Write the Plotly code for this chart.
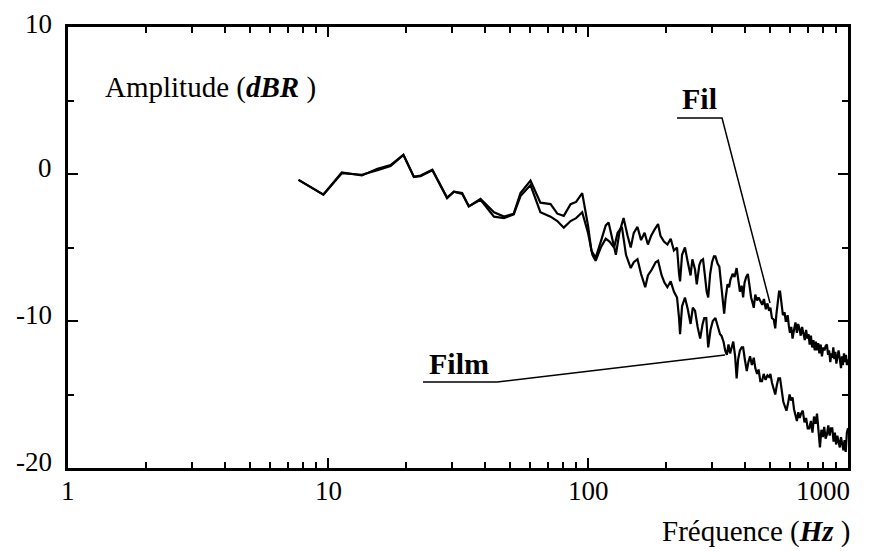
import numpy as np
import plotly.graph_objects as go

# ---------------- data ----------------
fil_freq = [7.7, 9.6, 11.3, 13.5, 15.5, 17.4, 19.5, 21.4, 22.7, 25.2, 28.7, 30.5, 32.8, 34.8,
            38.6, 43.5, 47.5, 51.8, 55, 60.1, 65.6, 71.8, 76.2, 80.7, 85.7, 90, 95,
            100, 103, 107, 112, 117, 120, 124, 128, 132, 137, 142, 146, 150, 155, 160, 165,
            170, 175, 180, 186, 190, 196, 202, 208, 214, 220, 224, 226, 230, 236, 242, 248,
            252, 258, 262, 268, 272, 277, 282, 286, 290, 295, 300, 305, 309, 315, 320, 326,
            330, 334, 338, 344, 349, 353, 360, 366, 373, 378, 384, 390, 395, 400, 406, 412,
            418, 424, 430, 434, 440, 447, 453, 460, 468, 475, 483, 490, 497, 503, 510, 518,
            525, 530, 537, 543, 548, 555, 562, 570, 576, 580, 586, 592, 598, 605, 612, 620,
            628, 636, 643, 650, 658, 666, 674, 682, 690, 698, 705, 712, 720, 728, 736, 745,
            752, 760, 768, 776, 785, 794, 803, 812, 820, 830, 838, 846, 855, 863, 870, 878,
            886, 894, 902, 910, 920, 930, 940, 948, 956, 965, 974, 982, 990, 1000]
fil_amp = [-0.4, -1.4, 0.1, -0.1, 0.35, 0.6, 1.3, -0.2, -0.1, 0.3, -1.6, -1.2, -1.3, -2.2,
           -1.7, -2.6, -2.9, -2.7, -1.3, -0.45, -1.95, -2.05, -2.7, -2.85, -2.05, -1.9, -1.3,
           -3.5, -5.2, -5.7, -4.6, -3.5, -3.3, -4.5, -5.5, -4.0, -3.0, -4.2, -5.0, -4.0, -3.6, -4.5, -4.0,
           -4.8, -4.2, -3.8, -3.4, -4.2, -4.6, -4.8, -4.4, -5.2, -5.0, -6.8, -7.3, -5.5, -5.0, -6.0, -6.9,
           -5.8, -6.5, -7.5, -6.2, -5.9, -5.8, -7.0, -8.0, -8.4, -6.8, -6.0, -5.6, -5.6, -6.1, -6.3, -7.8,
           -8.8, -9.5, -8.5, -7.5, -7.7, -7.2, -6.8, -7.0, -6.4, -7.2, -8.0, -7.6, -8.4, -7.4, -7.0, -6.8,
           -7.6, -8.4, -8.8, -9.1, -8.2, -8.6, -8.4, -8.6, -8.9, -8.5, -9.2, -8.8, -9.3, -9.1, -9.8, -9.9,
           -10.5, -9.6, -8.6, -8.0, -8.0, -8.9, -9.6, -9.4, -10.0, -10.0, -9.6, -10.3, -10.8, -10.4, -11.2, -10.6,
           -10.1, -10.8, -10.2, -10.5, -11.0, -10.4, -10.9, -11.3, -10.6, -11.2, -10.9, -11.6, -11.0, -11.8, -11.3, -12.0,
           -11.4, -12.0, -11.5, -12.2, -11.6, -12.4, -11.8, -12.0, -11.7, -11.6, -12.3, -12.0, -12.8, -12.2, -12.5, -11.8,
           -12.6, -12.1, -12.9, -12.3, -12.0, -12.6, -13.2, -12.4, -13.0, -12.2, -12.8, -12.3, -13.0, -12.6]

film_freq = [7.7, 9.6, 11.3, 13.5, 15.5, 17.4, 19.5, 21.4, 22.7, 25.2, 28.7, 30.5, 32.8, 34.8,
             38.6, 43.5, 47.5, 51.8, 55, 60.1, 65.6, 71.8, 76.2, 80.7, 85.7, 90, 95,
             100, 104, 107, 112, 117, 121, 126, 130, 135, 140, 146, 150, 155, 160, 166, 170,
             176, 182, 186, 192, 197, 202, 208, 214, 220, 224, 226, 230, 236, 242, 248, 253,
             258, 264, 270, 276, 280, 285, 290, 296, 302, 309, 315, 322, 326, 332, 337, 342,
             347, 352, 357, 362, 368, 373, 378, 384, 390, 395, 401, 408, 414, 420, 427, 434,
             440, 447, 453, 460, 467, 474, 482, 490, 497, 503, 510, 518, 525, 532, 540, 548,
             556, 564, 572, 580, 588, 596, 604, 612, 620, 628, 636, 644, 652, 660, 670, 680,
             690, 700, 710, 720, 730, 740, 750, 760, 770, 780, 790, 800, 810, 820, 830, 840,
             850, 860, 870, 880, 890, 900, 910, 920, 930, 940, 950, 960, 970, 980, 990, 1000]
film_amp = [-0.4, -1.4, 0.05, -0.05, 0.25, 0.55, 1.3, -0.2, -0.15, 0.25, -1.65, -1.2, -1.35, -2.2,
            -1.75, -2.9, -3.0, -2.75, -1.5, -0.75, -2.6, -2.9, -3.2, -3.65, -3.2, -3.0, -2.6,
            -4.0, -5.5, -5.9, -5.0, -4.4, -4.6, -5.0, -4.0, -3.6, -5.5, -6.4, -6.0, -5.8, -6.8, -7.7, -6.9,
            -6.5, -6.0, -5.9, -6.9, -7.4, -7.7, -7.3, -8.0, -8.4, -9.8, -10.9, -9.0, -8.4, -9.2, -10.2, -9.1,
            -9.3, -10.4, -11.2, -10.2, -9.8, -9.8, -11.8, -10.6, -10.0, -9.8, -10.4, -10.9, -11.0, -11.4, -12.0, -12.3,
            -11.6, -12.2, -11.8, -11.4, -12.4, -13.9, -12.6, -12.0, -11.8, -11.8, -12.6, -13.4, -12.8, -12.4, -13.0, -12.5,
            -13.2, -13.6, -13.3, -14.1, -14.1, -13.6, -14.0, -13.7, -13.8, -13.6, -14.2, -14.6, -15.0, -14.4, -13.9, -13.9,
            -14.8, -15.5, -15.8, -16.1, -15.6, -15.0, -15.4, -15.2, -16.0, -16.4, -16.8, -16.2, -16.6, -16.3, -16.1, -16.9,
            -16.6, -17.3, -17.3, -16.8, -17.6, -16.5, -17.0, -16.3, -17.4, -18.6, -17.4, -17.9, -17.2, -18.0, -17.7, -17.1,
            -17.8, -17.3, -17.3, -18.2, -17.6, -18.4, -17.8, -18.3, -18.6, -17.9, -18.4, -18.8, -18.1, -18.9, -17.6, -17.3]

x_tick_vals = [1, 10, 100, 1000]
x_tick_text = ["1", "10", "100", "1000"]
x_minor_vals = [m * d for d in (1, 10, 100) for m in range(2, 10)]
y_tick_vals = [-20, -10, 0, 10]
y_tick_text = ["-20", "-10", "0", "10"]
y_minor_vals = [-15, -5, 5]

SERIF = "Liberation Serif, Times New Roman, serif"

fig = go.Figure()
fig.add_trace(go.Scatter(x=fil_freq, y=fil_amp, mode="lines", name="Fil",
                         line=dict(color="black", width=2.2)))
fig.add_trace(go.Scatter(x=film_freq, y=film_amp, mode="lines", name="Film",
                         line=dict(color="black", width=2.2)))

axis_common = dict(showgrid=False, zeroline=False, showline=True, linecolor="black",
                   linewidth=3, mirror="allticks", ticks="inside", tickcolor="black",
                   tickwidth=2, ticklen=10, showticklabels=False)

fig.update_xaxes(type="log", range=[0, 3], tickmode="array", tickvals=x_tick_vals,
                 minor=dict(tickmode="array", tickvals=x_minor_vals, ticks="inside",
                            ticklen=6, tickwidth=1.5, tickcolor="black", showgrid=False),
                 **axis_common)
fig.update_yaxes(range=[-20, 10], tickmode="array", tickvals=y_tick_vals,
                 minor=dict(tickmode="array", tickvals=y_minor_vals, ticks="inside",
                            ticklen=6, tickwidth=1.5, tickcolor="black", showgrid=False),
                 **axis_common)

annotations = []
for v, t in zip(x_tick_vals, x_tick_text):
    last = (v == x_tick_vals[-1])
    annotations.append(dict(x=np.log10(v), xref="x", y=0, yref="paper", text=t,
                            showarrow=False, yanchor="top", yshift=-6,
                            xanchor="right" if last else "center", xshift=4 if last else 0,
                            font=dict(family=SERIF, size=27, color="black")))
for v, t in zip(y_tick_vals, y_tick_text):
    top = (v == y_tick_vals[-1])
    annotations.append(dict(x=0, xref="paper", y=v, yref="y", text=t, showarrow=False,
                            xanchor="right", xshift=-14, yshift=3 if top else 6,
                            yanchor="middle",
                            font=dict(family=SERIF, size=27, color="black")))

annotations += [
    dict(x=0.045, y=0.862, xref="paper", yref="paper", xanchor="left", yanchor="middle",
         text="Amplitude (<i><b>dBR</b></i> )", showarrow=False,
         font=dict(family=SERIF, size=29, color="black")),
    dict(x=1.005, y=-0.145, xref="paper", yref="paper", xanchor="right", yanchor="middle",
         text="Fréquence (<i><b>Hz</b></i> )", showarrow=False,
         font=dict(family=SERIF, size=29, color="black")),
    dict(x=0.7846, y=0.838, xref="paper", yref="paper", xanchor="left", yanchor="middle",
         text="<b>Fil</b>", showarrow=False,
         font=dict(family=SERIF, size=30, color="black")),
    dict(x=0.4603, y=0.238, xref="paper", yref="paper", xanchor="left", yanchor="middle",
         text="<b>Film</b>", showarrow=False,
         font=dict(family=SERIF, size=30, color="black")),
]

shapes = [
    dict(type="path", xref="paper", yref="paper",
         path="M 0.7808 0.7937 L 0.8385 0.7937 L 0.9 0.3741",
         line=dict(color="black", width=1.5)),
    dict(type="path", xref="paper", yref="paper",
         path="M 0.4551 0.1950 L 0.55 0.1950 L 0.8423 0.2562",
         line=dict(color="black", width=1.5)),
]

# the page body adds an 8px offset, so the figure is 8px smaller and margins shifted
fig.update_layout(width=874, height=543, margin=dict(l=60, r=34, t=19, b=83),
                  plot_bgcolor="white", paper_bgcolor="white", showlegend=False,
                  annotations=annotations, shapes=shapes)

fig.write_html("out.html")
